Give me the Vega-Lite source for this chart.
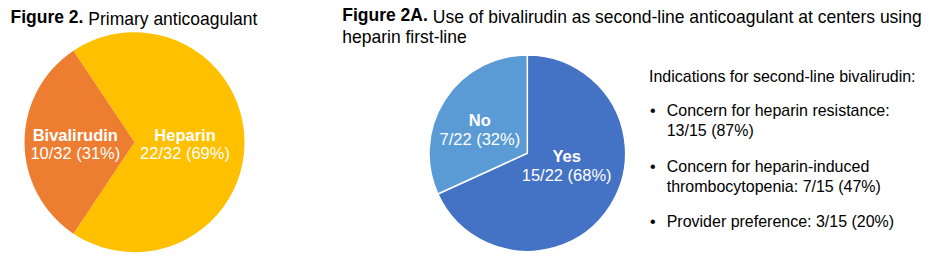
{
  "$schema": "https://vega.github.io/schema/vega-lite/v6.json",
  "autosize": {"type": "pad"},
  "padding": {"left": 10.5, "top": 6.9, "right": 0, "bottom": 0},
  "background": "#ffffff",
  "bounds": "flush",
  "spacing": 402.8,
  "resolve": {"scale": {"color": "independent", "theta": "independent", "y": "independent"}},
  "config": {
    "view": {"stroke": null},
    "font": "Liberation Sans",
    "title": {"font": "Liberation Sans", "fontSize": 17.5, "color": "#000000", "anchor": "start", "frame": "group", "baseline": "alphabetic", "subtitleFont": "Liberation Sans", "subtitleFontSize": 17.5, "subtitleColor": "#000000"},
    "text": {"font": "Liberation Sans"}
  },
  "datasets": {
    "primary": [
      {"category": "Heparin", "n": 22, "total": 32, "frac": "22/32 (69%)"},
      {"category": "Bivalirudin", "n": 10, "total": 32, "frac": "10/32 (31%)"}
    ],
    "second": [
      {"category": "Yes", "n": 15, "total": 22, "frac": "15/22 (68%)"},
      {"category": "No", "n": 7, "total": 22, "frac": "7/22 (32%)"}
    ],
    "indications": [
      {"rank": 1, "indication": "Concern for heparin resistance", "n": 13, "total": 15, "text": "Concern for heparin resistance:\n13/15 (87%)"},
      {"rank": 2, "indication": "Concern for heparin-induced thrombocytopenia", "n": 7, "total": 15, "text": "Concern for heparin-induced\nthrombocytopenia: 7/15 (47%)"},
      {"rank": 3, "indication": "Provider preference", "n": 3, "total": 15, "text": "Provider preference: 3/15 (20%)"}
    ]
  },
  "hconcat": [
    {
      "title": {"text": "Primary anticoagulant", "fontWeight": "normal", "dx": 63.8, "offset": 0, "dy": 19.4},
      "bounds": "flush",
      "resolve": {"scale": {"color": "independent", "theta": "independent"}},
      "vconcat": [
        {
          "title": {"text": "Figure 2.", "fontWeight": "bold", "dx": -14, "offset": 5.6},
          "width": 220,
          "height": 176.6,
          "data": {"name": "primary"},
          "encoding": {
            "theta": {"field": "n", "type": "quantitative", "stack": true, "scale": {"range": [-0.589, 5.694]}},
            "order": {"field": "n", "type": "quantitative", "sort": "descending"}
          },
          "layer": [
            {"mark": {"type": "arc", "outerRadius": 110}, "encoding": {"color": {"field": "category", "type": "nominal", "scale": {"domain": ["Heparin", "Bivalirudin"], "range": ["#FFC000", "#ED7D31"]}, "legend": null}}},
            {"mark": {"type": "text", "radius": 50.5, "dy": -1.3, "fontWeight": "bold", "fontSize": 16.5, "color": "#ffffff", "align": "center", "baseline": "alphabetic"}, "encoding": {"detail": {"field": "category", "type": "nominal"}, "text": {"condition": {"test": "datum.category === 'Heparin'", "field": "category", "type": "nominal"}, "value": ""}}},
            {"mark": {"type": "text", "radius": 50.5, "dy": 17.2, "fontSize": 16.5, "color": "#ffffff", "align": "center", "baseline": "alphabetic"}, "encoding": {"detail": {"field": "category", "type": "nominal"}, "text": {"condition": {"test": "datum.category === 'Heparin'", "field": "frac", "type": "nominal"}, "value": ""}}},
            {"mark": {"type": "text", "radius": 59.2, "dy": -1.3, "fontWeight": "bold", "fontSize": 16.5, "color": "#ffffff", "align": "center", "baseline": "alphabetic"}, "encoding": {"detail": {"field": "category", "type": "nominal"}, "text": {"condition": {"test": "datum.category === 'Bivalirudin'", "field": "category", "type": "nominal"}, "value": ""}}},
            {"mark": {"type": "text", "radius": 59.2, "dy": 17.2, "fontSize": 16.5, "color": "#ffffff", "align": "center", "baseline": "alphabetic"}, "encoding": {"detail": {"field": "category", "type": "nominal"}, "text": {"condition": {"test": "datum.category === 'Bivalirudin'", "field": "frac", "type": "nominal"}, "value": ""}}}
          ]
        }
      ]
    },
    {
      "title": {"text": "Use of bivalirudin as second-line anticoagulant at centers using", "fontWeight": "normal", "dx": 5.5, "offset": 0, "dy": 19.4},
      "bounds": "flush",
      "resolve": {"scale": {"color": "independent", "theta": "independent", "y": "independent"}},
      "vconcat": [
        {
          "title": {"text": "Figure 2A.", "subtitle": "heparin first-line", "fontWeight": "bold", "subtitleFontWeight": "normal", "dx": -85, "subtitlePadding": 4.8, "offset": 5},
          "bounds": "flush",
          "spacing": 21.7,
          "resolve": {"scale": {"color": "independent", "theta": "independent", "y": "independent"}},
          "hconcat": [
            {
              "width": 200,
              "height": 198.6,
              "data": {"name": "second"},
              "encoding": {
                "theta": {"field": "n", "type": "quantitative", "stack": true},
                "order": {"field": "n", "type": "quantitative", "sort": "descending"}
              },
              "layer": [
                {"mark": {"type": "arc", "outerRadius": 98.3, "stroke": "#ffffff", "strokeWidth": 1.5}, "encoding": {"color": {"field": "category", "type": "nominal", "scale": {"domain": ["Yes", "No"], "range": ["#4472C4", "#5B9BD5"]}, "legend": null}}},
                {"mark": {"type": "text", "radius": 38.5, "dx": 7, "dy": -12.4, "fontWeight": "bold", "fontSize": 16.5, "color": "#ffffff", "align": "center", "baseline": "alphabetic"}, "encoding": {"detail": {"field": "category", "type": "nominal"}, "text": {"condition": {"test": "datum.category === 'Yes'", "field": "category", "type": "nominal"}, "value": ""}}},
                {"mark": {"type": "text", "radius": 38.5, "dx": 7, "dy": 6.9, "fontSize": 16.5, "color": "#ffffff", "align": "center", "baseline": "alphabetic"}, "encoding": {"detail": {"field": "category", "type": "nominal"}, "text": {"condition": {"test": "datum.category === 'Yes'", "field": "frac", "type": "nominal"}, "value": ""}}},
                {"mark": {"type": "text", "radius": 54.3, "dx": -1.8, "dy": 1.7, "fontWeight": "bold", "fontSize": 16.5, "color": "#ffffff", "align": "center", "baseline": "alphabetic"}, "encoding": {"detail": {"field": "category", "type": "nominal"}, "text": {"condition": {"test": "datum.category === 'No'", "field": "category", "type": "nominal"}, "value": ""}}},
                {"mark": {"type": "text", "radius": 54.3, "dx": -1.8, "dy": 21, "fontSize": 16.5, "color": "#ffffff", "align": "center", "baseline": "alphabetic"}, "encoding": {"detail": {"field": "category", "type": "nominal"}, "text": {"condition": {"test": "datum.category === 'No'", "field": "frac", "type": "nominal"}, "value": ""}}}
              ]
            },
            {
              "title": {"text": "Indications for second-line bivalirudin:", "fontSize": 16, "fontWeight": "normal", "offset": -31},
              "width": 1,
              "height": 110.5,
              "data": {"name": "indications"},
              "encoding": {"y": {"field": "rank", "type": "ordinal", "axis": null, "scale": {"type": "point", "padding": 0}}},
              "layer": [
                {"mark": {"type": "text", "text": "•", "align": "left", "baseline": "alphabetic", "dx": 0.5, "dy": 62.5, "fontSize": 16, "color": "#000000"}},
                {"mark": {"type": "text", "align": "left", "baseline": "alphabetic", "dx": 17.2, "dy": 62.5, "fontSize": 16, "lineHeight": 20, "lineBreak": "\n", "color": "#000000"}, "encoding": {"text": {"field": "text", "type": "nominal"}}}
              ]
            }
          ]
        }
      ]
    }
  ]
}
